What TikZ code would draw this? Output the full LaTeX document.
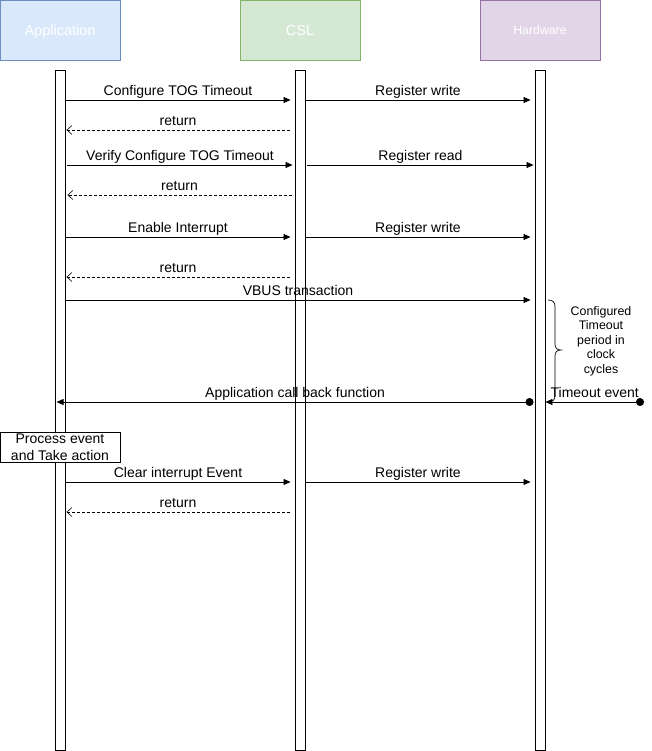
\documentclass[tikz,border=0pt]{standalone}
\usepackage{fontspec}
\setmainfont{Liberation Sans}
\usetikzlibrary{arrows.meta}

\definecolor{appfill}{HTML}{DAE8FC}\definecolor{appline}{HTML}{6C8EBF}
\definecolor{cslfill}{HTML}{D5E8D4}\definecolor{cslline}{HTML}{82B366}
\definecolor{hwfill}{HTML}{E1D5E7}\definecolor{hwline}{HTML}{9673A6}

\begin{document}
\begin{tikzpicture}[x=1pt,y=-1pt,
  head/.style={draw, line width=0.8pt, minimum width=120pt, minimum height=60pt, inner sep=0pt,
    text=white, text height=10.5pt, text depth=0pt, font=\fontsize{14.5}{17}\selectfont},
  lifebar/.style={draw, fill=white, line width=0.9pt, minimum width=10pt, minimum height=680pt, inner sep=0pt},
  msg/.style={-{Triangle[length=7pt,width=6pt]}, line width=0.8pt},
  ret/.style={-{Straight Barb[length=5pt,width=9pt,line width=0.6pt]}, dash pattern=on 3pt off 2pt, line width=0.6pt},
  dotmsg/.style={{Circle[length=8pt]}-{Triangle[length=7pt,width=6pt]}, line width=0.8pt},
  lbl/.style={font=\fontsize{14}{17}\selectfont, inner sep=0pt, text height=10pt, text depth=3pt, yshift=8pt},
]
\useasboundingbox (0,0) rectangle (652,751);

% participants
\node[head, fill=appfill, draw=appline] (app) at (60,30) {Application};
\node[head, fill=cslfill, draw=cslline] (csl) at (300,30) {CSL};
\node[head, fill=hwfill, draw=hwline, text height=9pt, font=\fontsize{12.3}{14}\selectfont] (hw) at (540,30) {Hardware};

% lifelines
\node[lifebar] (appL) at (60,410) {};
\node[lifebar] (cslL) at (300,410) {};
\node[lifebar] (hwL) at (540,410) {};

% configure timeout
\draw[msg] (appL.east |- 0,100) -- node[lbl] {Configure TOG Timeout} ([xshift=-4pt]cslL.west |- 0,100);
\draw[msg] (cslL.east |- 0,100) -- node[lbl] {Register write} ([xshift=-4pt]hwL.west |- 0,100);
\draw[ret] ([xshift=-5pt]cslL.west |- 0,130) -- node[lbl] {return} ([xshift=1pt]appL.east |- 0,130);

% verify
\draw[msg] ([xshift=2pt]appL.east |- 0,165) -- node[lbl] {Verify Configure TOG Timeout} ([xshift=-2pt]cslL.west |- 0,165);
\draw[msg] ([xshift=2pt]cslL.east |- 0,165) -- node[lbl] {Register read} ([xshift=-1pt]hwL.west |- 0,165);
\draw[ret] ([xshift=-3pt]cslL.west |- 0,195) -- node[lbl] {return} ([xshift=2pt]appL.east |- 0,195);

% enable interrupt
\draw[msg] (appL.east |- 0,237) -- node[lbl] {Enable Interrupt} ([xshift=-4pt]cslL.west |- 0,237);
\draw[msg] (cslL.east |- 0,237) -- node[lbl] {Register write} ([xshift=-4pt]hwL.west |- 0,237);
\draw[ret] ([xshift=-5pt]cslL.west |- 0,277) -- node[lbl] {return} ([xshift=1pt]appL.east |- 0,277);

% bus transaction
\draw[msg] (appL.east |- 0,300) -- node[lbl] {VBUS transaction} ([xshift=-4pt]hwL.west |- 0,300);

% timeout period brace
\draw[line width=0.7pt] (548,300) .. controls (553,300) and (555,302) .. (555,307) -- (555,344)
  .. controls (555,348) and (557,350) .. (561,350)
  .. controls (557,350) and (555,352) .. (555,356) -- (555,395)
  .. controls (555,400) and (553,402) .. (548,402);
\node[font=\fontsize{12.4}{14.4}\selectfont, align=center, inner sep=0pt] (period) at (601,341)
  {Configured\\Timeout\\period in\\clock\\cycles};

% callback and timeout event
\coordinate (tsrc) at (644,402);
\draw[dotmsg] ([xshift=-1pt]hwL.west |- 0,402) -- node[lbl] {Application call back function} ([xshift=2pt]appL.west |- 0,402);
\draw[dotmsg] (tsrc) -- node[lbl] {Timeout event} (hwL.east |- tsrc);

% action box
\node[draw, fill=white, line width=0.8pt, minimum width=120pt, minimum height=30pt, inner sep=0pt,
  align=center, font=\fontsize{14}{17}\selectfont] (act) at (60,447) {Process event\\and Take action};

% clear interrupt
\draw[msg] (appL.east |- 0,482) -- node[lbl] {Clear interrupt Event} ([xshift=-4pt]cslL.west |- 0,482);
\draw[msg] (cslL.east |- 0,482) -- node[lbl] {Register write} ([xshift=-4pt]hwL.west |- 0,482);
\draw[ret] ([xshift=-5pt]cslL.west |- 0,512) -- node[lbl] {return} ([xshift=1pt]appL.east |- 0,512);
\end{tikzpicture}
\end{document}
